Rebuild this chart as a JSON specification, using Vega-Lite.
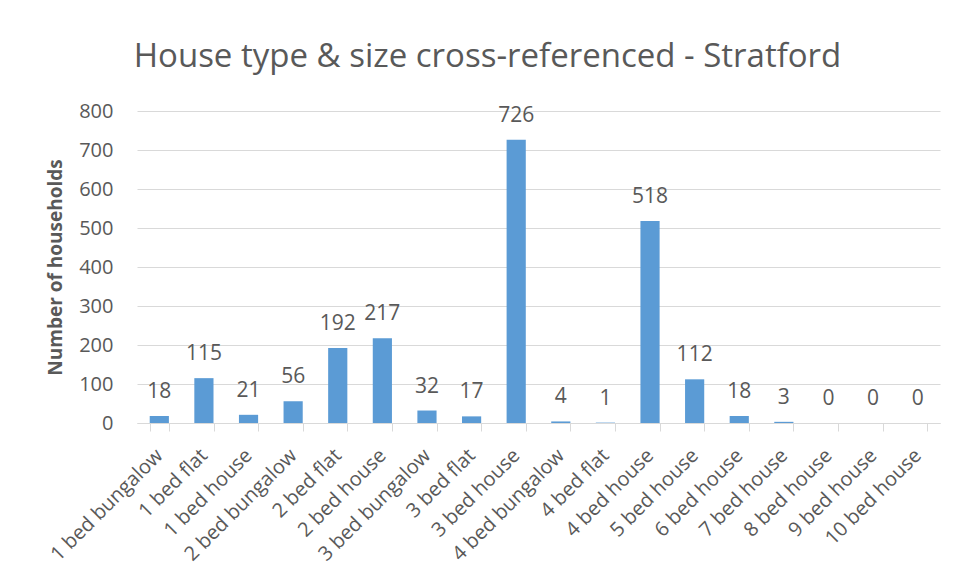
{
  "$schema": "https://vega.github.io/schema/vega-lite/v6.json",
  "width": 803,
  "height": 312,
  "autosize": {"type": "none"},
  "padding": {"left": 137, "top": 111, "right": 16, "bottom": 160},
  "background": "white",
  "title": {
    "text": "House type & size cross-referenced - Stratford",
    "font": "Open Sans",
    "fontSize": 33,
    "fontWeight": "normal",
    "color": "#595959",
    "anchor": "middle",
    "dx": -51,
    "offset": 27
  },
  "data": {
    "values": [
      {"type": "1 bed bungalow", "households": 18},
      {"type": "1 bed flat", "households": 115},
      {"type": "1 bed house", "households": 21},
      {"type": "2 bed bungalow", "households": 56},
      {"type": "2 bed flat", "households": 192},
      {"type": "2 bed house", "households": 217},
      {"type": "3 bed bungalow", "households": 32},
      {"type": "3 bed flat", "households": 17},
      {"type": "3 bed house", "households": 726},
      {"type": "4 bed bungalow", "households": 4},
      {"type": "4 bed flat", "households": 1},
      {"type": "4 bed house", "households": 518},
      {"type": "5 bed house", "households": 112},
      {"type": "6 bed house", "households": 18},
      {"type": "7 bed house", "households": 3},
      {"type": "8 bed house", "households": 0},
      {"type": "9 bed house", "households": 0},
      {"type": "10 bed house", "households": 0}
    ]
  },
  "encoding": {
    "x": {
      "field": "type",
      "type": "nominal",
      "sort": null,
      "scale": {"paddingInner": 0.57, "paddingOuter": 0.285},
      "axis": {
        "title": null,
        "labelAngle": -45,
        "labelAlign": "right",
        "labelBaseline": "middle",
        "labelFont": "Open Sans",
        "labelFontSize": 20,
        "labelColor": "#595959",
        "labelPadding": 21,
        "tickBand": "extent",
        "tickSize": 8,
        "tickColor": "#d9d9d9",
        "domainColor": "#d9d9d9",
        "grid": false
      }
    },
    "y": {
      "field": "households",
      "type": "quantitative",
      "scale": {"domain": [0, 800], "nice": false},
      "axis": {
        "title": "Number of households",
        "titleFont": "Open Sans",
        "titleFontSize": 19,
        "titleFontWeight": "bold",
        "titleColor": "#595959",
        "titlePadding": 13,
        "values": [0, 100, 200, 300, 400, 500, 600, 700, 800],
        "labelFont": "Open Sans",
        "labelFontSize": 20,
        "labelColor": "#595959",
        "labelPadding": 24,
        "ticks": false,
        "domain": false,
        "gridColor": "#d9d9d9",
        "gridWidth": 1
      }
    }
  },
  "layer": [
    {"mark": {"type": "bar", "color": "#5b9bd5"}},
    {
      "mark": {
        "type": "text",
        "baseline": "bottom",
        "dy": -14,
        "font": "Open Sans",
        "fontSize": 21,
        "color": "#595959"
      },
      "encoding": {"text": {"field": "households", "type": "quantitative"}}
    }
  ],
  "config": {"view": {"stroke": null}}
}
